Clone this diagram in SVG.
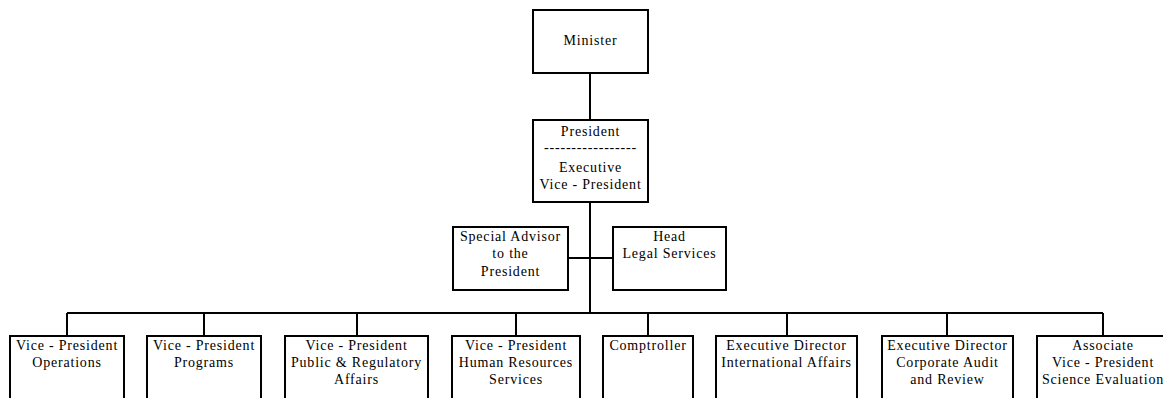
<svg xmlns="http://www.w3.org/2000/svg" width="1163" height="398" viewBox="0 0 1163 398">
<style>
.box{fill:#fff;stroke:#000;stroke-width:2}
.t{font-family:"Liberation Serif","Times New Roman",serif;font-size:14px;letter-spacing:0.8px;fill:#000;text-anchor:middle}
.c{stroke:#000;stroke-width:2;fill:none}
</style>
<rect width="1163" height="398" fill="#fff"/>
<g id="connectors">
<line class="c" x1="590" y1="73" x2="590" y2="120"/>
<line class="c" x1="590" y1="202" x2="590" y2="313"/>
<line class="c" x1="568" y1="258" x2="613" y2="258"/>
<line class="c" x1="67" y1="313" x2="1103" y2="313"/>
<line class="c" x1="67" y1="313" x2="67" y2="336"/>
<line class="c" x1="204" y1="313" x2="204" y2="336"/>
<line class="c" x1="357" y1="313" x2="357" y2="336"/>
<line class="c" x1="516" y1="313" x2="516" y2="336"/>
<line class="c" x1="648" y1="313" x2="648" y2="336"/>
<line class="c" x1="787" y1="313" x2="787" y2="336"/>
<line class="c" x1="947" y1="313" x2="947" y2="336"/>
<line class="c" x1="1103" y1="313" x2="1103" y2="336"/>
</g>
<g id="minister">
<rect class="box" x="533" y="10" width="115" height="63"/>
<text class="t" x="590.5" y="45">Minister</text>
</g>
<g id="president">
<rect class="box" x="533" y="120" width="115" height="82"/>
<text class="t" x="590.5" y="136">President</text>
<text class="t" x="590.5" y="152">-----------------</text>
<text class="t" x="590.5" y="172">Executive</text>
<text class="t" x="590.5" y="189">Vice - President</text>
</g>
<g id="special-advisor">
<rect class="box" x="453" y="227" width="115" height="63"/>
<text class="t" x="510.5" y="241">Special Advisor</text>
<text class="t" x="510.5" y="258">to the</text>
<text class="t" x="510.5" y="276">President</text>
</g>
<g id="head-legal">
<rect class="box" x="613" y="227" width="113" height="63"/>
<text class="t" x="669.5" y="241">Head</text>
<text class="t" x="669.5" y="258">Legal Services</text>
</g>
<g id="vp-operations">
<rect class="box" x="10" y="336" width="114" height="80"/>
<text class="t" x="67" y="350">Vice - President</text>
<text class="t" x="67" y="367">Operations</text>
</g>
<g id="vp-programs">
<rect class="box" x="147" y="336" width="114" height="80"/>
<text class="t" x="204" y="350">Vice - President</text>
<text class="t" x="204" y="367">Programs</text>
</g>
<g id="vp-public">
<rect class="box" x="285" y="336" width="143" height="80"/>
<text class="t" x="356.5" y="350">Vice - President</text>
<text class="t" x="356.5" y="367">Public &amp; Regulatory</text>
<text class="t" x="356.5" y="384">Affairs</text>
</g>
<g id="vp-hr">
<rect class="box" x="452" y="336" width="128" height="80"/>
<text class="t" x="516" y="350">Vice - President</text>
<text class="t" x="516" y="367">Human Resources</text>
<text class="t" x="516" y="384">Services</text>
</g>
<g id="comptroller">
<rect class="box" x="603" y="336" width="90" height="80"/>
<text class="t" x="648" y="350">Comptroller</text>
</g>
<g id="ed-international">
<rect class="box" x="716" y="336" width="141" height="80"/>
<text class="t" x="786.5" y="350">Executive Director</text>
<text class="t" x="786.5" y="367">International Affairs</text>
</g>
<g id="ed-audit">
<rect class="box" x="882" y="336" width="131" height="80"/>
<text class="t" x="947.5" y="350">Executive Director</text>
<text class="t" x="947.5" y="367">Corporate Audit</text>
<text class="t" x="947.5" y="384">and Review</text>
</g>
<g id="avp-science">
<rect class="box" x="1037" y="336" width="132" height="80"/>
<text class="t" x="1103" y="350">Associate</text>
<text class="t" x="1103" y="367">Vice - President</text>
<text class="t" x="1103" y="384">Science Evaluation</text>
</g>
</svg>
